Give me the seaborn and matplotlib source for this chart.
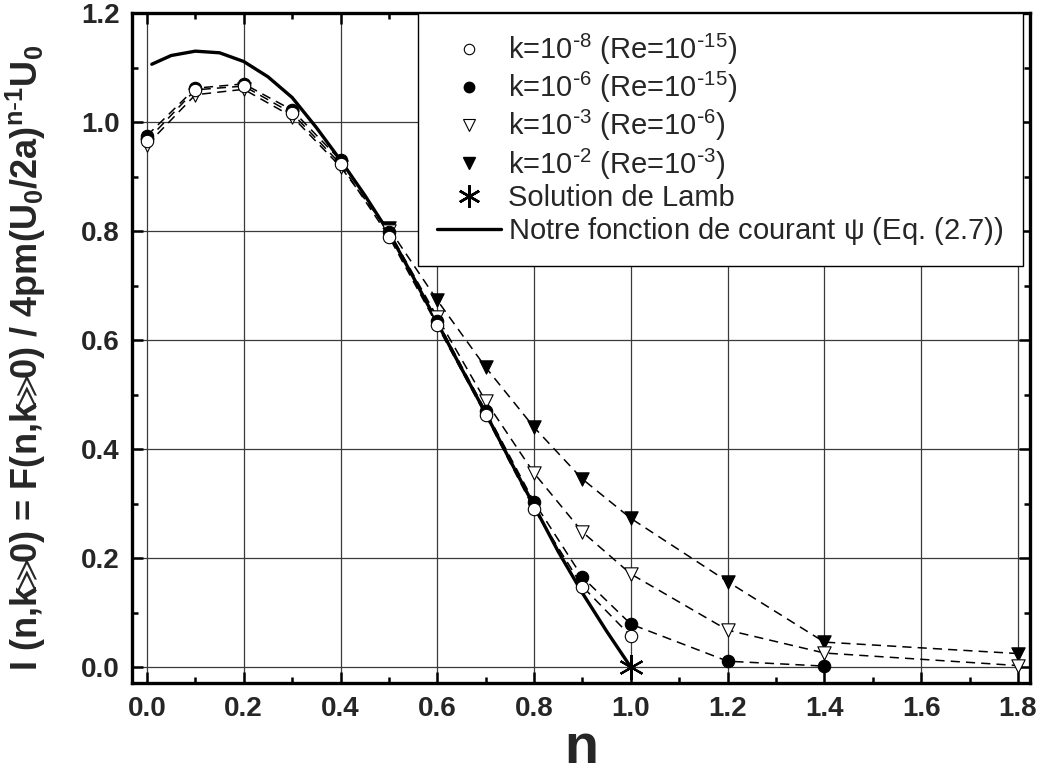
import matplotlib
matplotlib.use("Agg")
import matplotlib.pyplot as plt
from matplotlib.lines import Line2D
from matplotlib.ticker import MultipleLocator
import numpy as np
import pandas as pd
import seaborn as sns

# ---------------- data ----------------
n_circ = [0.0, 0.1, 0.2, 0.3, 0.4, 0.5, 0.6, 0.7, 0.8, 0.9, 1.0]
open_circ = [0.966, 1.059, 1.066, 1.016, 0.923, 0.79, 0.627, 0.462, 0.29, 0.148, 0.057]

n_fcirc = [0.0, 0.1, 0.2, 0.3, 0.4, 0.5, 0.6, 0.7, 0.8, 0.9, 1.0, 1.2, 1.4]
filled_circ = [0.975, 1.062, 1.07, 1.022, 0.93, 0.798, 0.635, 0.47, 0.303, 0.165, 0.079, 0.011, 0.002]

n_otri = [0.0, 0.1, 0.2, 0.3, 0.4, 0.5, 0.6, 0.7, 0.8, 0.9, 1.0, 1.2, 1.4, 1.8]
open_tri = [0.958, 1.05, 1.06, 1.01, 0.918, 0.80, 0.642, 0.488, 0.356, 0.248, 0.171, 0.068, 0.026, 0.003]

n_ftri = [0.5, 0.6, 0.7, 0.8, 0.9, 1.0, 1.2, 1.4, 1.8]
filled_tri = [0.805, 0.673, 0.55, 0.44, 0.345, 0.273, 0.157, 0.046, 0.025]

n_lamb = [1.0]
lamb = [0.0]

n_psi = [0.01, 0.05, 0.1, 0.15, 0.2, 0.25, 0.3, 0.35, 0.4, 0.45, 0.5, 0.55,
         0.6, 0.65, 0.7, 0.75, 0.8, 0.85, 0.9, 0.95, 1.0]
psi = [1.106, 1.122, 1.130, 1.127, 1.111, 1.083, 1.045, 0.99, 0.93, 0.866, 0.797, 0.716,
       0.632, 0.548, 0.466, 0.38, 0.296, 0.212, 0.136, 0.066, 0.0]

labels = [r"k=10$^{\text{-}8}$ (Re=10$^{\text{-}15}$)",
          r"k=10$^{\text{-}6}$ (Re=10$^{\text{-}15}$)",
          r"k=10$^{\text{-}3}$ (Re=10$^{\text{-}6}$)",
          r"k=10$^{\text{-}2}$ (Re=10$^{\text{-}3}$)",
          "Solution de Lamb",
          r"Notre fonction de courant $\psi$ (Eq. (2.7))"]

ylabel = r"I (n,k$\!\!\gg\!\!$0) = F(n,k$\!\!\gg\!\!$0) / 4pm(U$_0$/2a)$^{n\text{-}1}$U$_0$"

xticks = [0.0, 0.2, 0.4, 0.6, 0.8, 1.0, 1.2, 1.4, 1.6, 1.8]
yticks = [0.0, 0.2, 0.4, 0.6, 0.8, 1.0, 1.2]

# ---------------- style ----------------
sns.set_theme(style="white")
plt.rcParams["font.family"] = ["Liberation Sans", "DejaVu Sans"]
plt.rcParams["mathtext.fontset"] = "dejavusans"
plt.rcParams["mathtext.default"] = "regular"

fig = plt.figure(figsize=(10.49, 7.78), dpi=100)
ax = fig.add_axes([0.1258, 0.1221, 0.8561, 0.8612])

dash_kw = dict(color="black", linewidth=1.1, dashes=(6, 4))

# dashed fit lines (through data)
for xs, ys in [(n_ftri, filled_tri), (n_otri, open_tri), (n_fcirc, filled_circ), (n_circ, open_circ)]:
    sns.lineplot(x=xs, y=ys, ax=ax, sort=False, legend=False, zorder=3, **dash_kw)

# solid theory curve
sns.lineplot(x=n_psi, y=psi, ax=ax, color="black", linewidth=2.4, sort=False, legend=False, zorder=4)

ms = 80
sns.scatterplot(x=n_ftri, y=filled_tri, ax=ax, marker="v", s=ms * 1.15, color="black",
                edgecolor="black", linewidth=0.8, zorder=5, legend=False)
sns.scatterplot(x=n_otri, y=open_tri, ax=ax, marker="v", s=ms * 1.15, color="white",
                edgecolor="black", linewidth=0.8, zorder=6, legend=False)
sns.scatterplot(x=n_fcirc, y=filled_circ, ax=ax, marker="o", s=ms, color="black",
                edgecolor="black", linewidth=0.8, zorder=7, legend=False)
sns.scatterplot(x=n_circ, y=open_circ, ax=ax, marker="o", s=ms, color="white",
                edgecolor="black", linewidth=0.8, zorder=8, legend=False)
ax.plot(n_lamb, lamb, linestyle="none", marker=(6, 2, 0), markersize=18,
        markeredgewidth=1.6, color="black", zorder=9, clip_on=False)

# axes
ax.set_xlim(-0.031, 1.825)
ax.set_ylim(-0.029, 1.2)
ax.set_xticks(xticks)
ax.set_yticks(yticks)
ax.set_xticklabels([f"{v:.1f}" for v in xticks])
ax.set_yticklabels([f"{v:.1f}" for v in yticks])
ax.xaxis.set_minor_locator(MultipleLocator(0.1))
ax.yaxis.set_minor_locator(MultipleLocator(0.1))
ax.tick_params(which="both", direction="in", top=True, right=True, bottom=True, left=True,
               color="black")
ax.tick_params(which="major", length=8, width=1.8, labelsize=20, pad=9)
ax.tick_params(which="minor", length=4.5, width=1.8)
for lab in ax.get_xticklabels() + ax.get_yticklabels():
    lab.set_fontweight("bold")
for sp in ax.spines.values():
    sp.set_linewidth(2.4)
    sp.set_color("black")
    sp.set_visible(True)
ax.grid(True, which="major", color="#3a3a3a", linewidth=0.9)
ax.set_axisbelow(True)

ax.set_xlabel("n", fontsize=40, fontweight="bold", labelpad=1)
ax.set_ylabel(ylabel, fontsize=26, fontweight="bold")
ax.yaxis.set_label_coords(-0.094, 0.485)

# legend
handles = [
    Line2D([], [], linestyle="none", marker="o", markersize=7.5, markerfacecolor="white",
           markeredgecolor="black", markeredgewidth=0.8),
    Line2D([], [], linestyle="none", marker="o", markersize=7.5, markerfacecolor="black",
           markeredgecolor="black"),
    Line2D([], [], linestyle="none", marker="v", markersize=8, markerfacecolor="white",
           markeredgecolor="black", markeredgewidth=0.8),
    Line2D([], [], linestyle="none", marker="v", markersize=8, markerfacecolor="black",
           markeredgecolor="black"),
    Line2D([], [], linestyle="none", marker=(6, 2, 0), markersize=16, markeredgewidth=1.8,
           color="black"),
    Line2D([], [], color="black", linewidth=2.4),
]
leg = ax.legend(handles, labels, loc="upper right", bbox_to_anchor=(0.992, 1.0),
                borderaxespad=0, fontsize=21, frameon=True, fancybox=False,
                edgecolor="black", framealpha=1, handlelength=2.2, handletextpad=0.25,
                labelspacing=0.1, borderpad=0.65)
leg.get_frame().set_linewidth(1.0)
leg.set_zorder(10)

fig.savefig("out.png", dpi=100)
